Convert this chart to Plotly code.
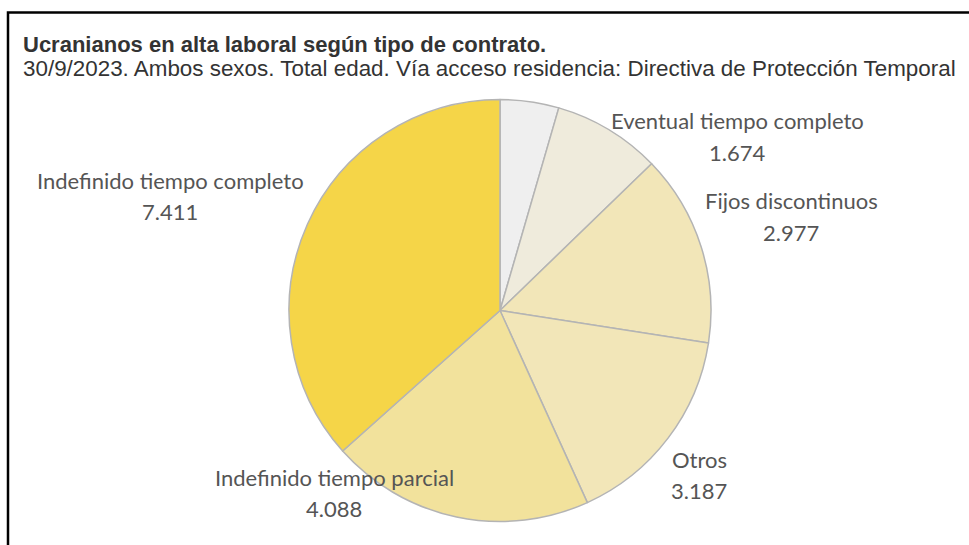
import plotly.graph_objects as go

W, H = 969, 545

categories = ["Eventual tiempo parcial", "Eventual tiempo completo", "Fijos discontinuos",
              "Otros", "Indefinido tiempo parcial", "Indefinido tiempo completo"]
values = [910, 1674, 2977, 3187, 4088, 7411]
value_labels = ["", "1.674", "2.977", "3.187", "4.088", "7.411"]
show_label = [False, True, True, True, True, True]
colors = ["#efefef", "#efebdc", "#f2e6b8", "#f2e6b8", "#f2e29c", "#f5d548"]

title = "Ucranianos en alta laboral según tipo de contrato."
subtitle = "30/9/2023. Ambos sexos. Total edad. Vía acceso residencia: Directiva de Protección Temporal"

# label anchor positions in pixels (centre of name line)
label_pos = {
    "Eventual tiempo completo": (737, 121),
    "Fijos discontinuos": (791, 201),
    "Otros": (699, 459),
    "Indefinido tiempo parcial": (334, 477),
    "Indefinido tiempo completo": (170, 180),
}

def px(x, y):
    return x / W, 1 - y / H

cx, cy, r = 500, 310.5, 211
x0, y0 = px(cx - r, cy + r)
x1, y1 = px(cx + r, cy - r)

fig = go.Figure(go.Pie(
    labels=categories,
    values=values,
    sort=False,
    direction="clockwise",
    rotation=0,
    marker=dict(colors=colors, line=dict(color="#b4b4b4", width=1.5)),
    textinfo="none",
    hoverinfo="label+value",
    showlegend=False,
    domain=dict(x=[x0, x1], y=[y0, y1]),
))

annotations = []
for cat, vl, show in zip(categories, value_labels, show_label):
    if not show:
        continue
    lx, ly = label_pos[cat]
    ax, ay = px(lx, ly)
    annotations.append(dict(x=ax, y=ay, xref="paper", yref="paper", text=cat,
                            showarrow=False, xanchor="center", yanchor="middle",
                            font=dict(family="Lato", size=22, color="#555555")))
    bx, by = px(lx, ly + 31)
    annotations.append(dict(x=bx, y=by, xref="paper", yref="paper", text=vl,
                            showarrow=False, xanchor="center", yanchor="middle",
                            font=dict(family="Lato", size=22, color="#555555")))

tx, ty = px(21, 44)
annotations.append(dict(x=tx, y=ty, xref="paper", yref="paper", text="<b>" + title + "</b>",
                        showarrow=False, xanchor="left", yanchor="middle",
                        font=dict(family="Liberation Sans", size=22, color="#333333")))
sx, sy = px(21, 68)
annotations.append(dict(x=sx, y=sy, xref="paper", yref="paper", text=subtitle,
                        showarrow=False, xanchor="left", yanchor="middle",
                        font=dict(family="Liberation Sans", size=22.4, color="#333333")))

bx0, by0 = px(8, 560)
bx1, by1 = px(990, 12.5)
fig.update_layout(
    width=W, height=H,
    margin=dict(l=0, r=0, t=0, b=0),
    paper_bgcolor="white",
    plot_bgcolor="white",
    annotations=annotations,
    shapes=[dict(type="rect", xref="paper", yref="paper", x0=bx0, y0=by0, x1=bx1, y1=by1,
                 line=dict(color="black", width=2.5), fillcolor="rgba(0,0,0,0)")],
)

fig.write_html("out.html")
